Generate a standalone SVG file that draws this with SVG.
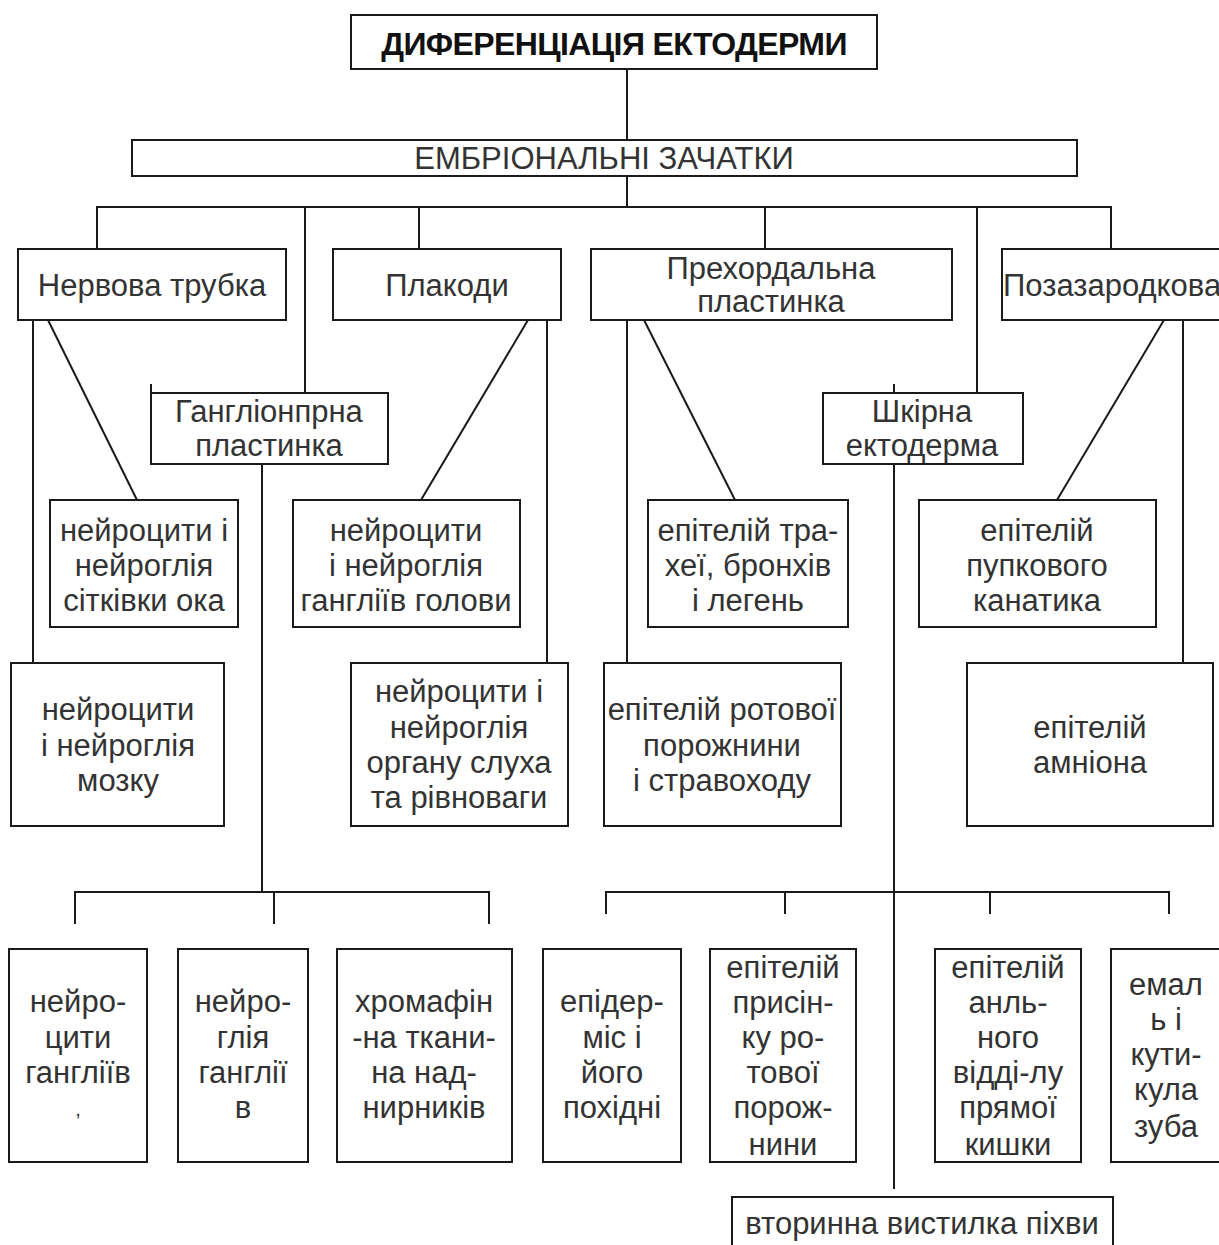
<svg xmlns="http://www.w3.org/2000/svg" width="1219" height="1245" viewBox="0 0 1219 1245">
  <style>
    .box { fill: #ffffff; stroke: #1a1a1a; stroke-width: 2; }
    .ln { stroke: #1a1a1a; stroke-width: 2; fill: none; }
    .t { font-family: "Liberation Sans", Arial, sans-serif; font-size: 31px; fill: #333333; text-anchor: middle; }
    .title { font-family: "Liberation Sans", Arial, sans-serif; font-size: 32px; font-weight: bold; letter-spacing: -0.6px; fill: #111111; text-anchor: middle; }
  </style>
  <rect width="1219" height="1245" fill="#ffffff"/>

  <!-- connectors -->
  <g id="connectors">
    <line class="ln" x1="627" y1="69" x2="627" y2="140"/>
    <line class="ln" x1="627" y1="176" x2="627" y2="207"/>
    <polyline class="ln" points="97,249 97,207 1111,207 1111,249"/>
    <line class="ln" x1="305" y1="207" x2="305" y2="393"/>
    <line class="ln" x1="419" y1="207" x2="419" y2="249"/>
    <line class="ln" x1="765" y1="207" x2="765" y2="249"/>
    <line class="ln" x1="977" y1="207" x2="977" y2="393"/>
    <!-- small stubs above second-level boxes -->
    <line class="ln" x1="151" y1="384" x2="151" y2="393"/>
    <line class="ln" x1="894" y1="384" x2="894" y2="393"/>
    <!-- neural tube -->
    <line class="ln" x1="33" y1="320" x2="33" y2="663"/>
    <line class="ln" x1="48" y1="320" x2="137" y2="500"/>
    <!-- placodes -->
    <line class="ln" x1="528" y1="320" x2="421" y2="500"/>
    <line class="ln" x1="547" y1="320" x2="547" y2="663"/>
    <!-- prechordal plate -->
    <line class="ln" x1="627" y1="320" x2="627" y2="663"/>
    <line class="ln" x1="644" y1="320" x2="735" y2="500"/>
    <!-- extraembryonic -->
    <line class="ln" x1="1164" y1="320" x2="1057" y2="500"/>
    <line class="ln" x1="1183" y1="320" x2="1183" y2="663"/>
    <!-- ganglionic plate -->
    <line class="ln" x1="262" y1="464" x2="262" y2="892"/>
    <polyline class="ln" points="75,924 75,892 489,892 489,924"/>
    <line class="ln" x1="274" y1="892" x2="274" y2="924"/>
    <!-- skin ectoderm -->
    <line class="ln" x1="894" y1="464" x2="894" y2="1189"/>
    <polyline class="ln" points="606,914 606,892 1169,892 1169,914"/>
    <line class="ln" x1="785" y1="892" x2="785" y2="914"/>
    <line class="ln" x1="990" y1="892" x2="990" y2="914"/>
  </g>

  <!-- top level -->
  <g id="n-title">
    <rect class="box" x="351" y="15" width="526" height="54"/>
    <text class="title" x="614" y="55">ДИФЕРЕНЦІАЦІЯ ЕКТОДЕРМИ</text>
  </g>
  <g id="n-rudiments">
    <rect class="box" x="132" y="140" width="945" height="36"/>
    <text class="t" x="604" y="169">ЕМБРІОНАЛЬНІ ЗАЧАТКИ</text>
  </g>

  <!-- rudiments -->
  <g id="n-neural-tube">
    <rect class="box" x="18" y="249" width="268" height="71"/>
    <text class="t" x="152" y="296">Нервова трубка</text>
  </g>
  <g id="n-placodes">
    <rect class="box" x="333" y="249" width="228" height="71"/>
    <text class="t" x="447" y="296">Плакоди</text>
  </g>
  <g id="n-prechordal">
    <rect class="box" x="591" y="249" width="361" height="71"/>
    <text class="t" x="771" y="279">Прехордальна</text>
    <text class="t" x="771" y="312">пластинка</text>
  </g>
  <g id="n-extraembryonic">
    <rect class="box" x="1002" y="249" width="230" height="71"/>
    <text class="t" x="1003" y="296" style="text-anchor:start">Позазародкова</text>
  </g>
  <g id="n-ganglionic">
    <rect class="box" x="151" y="393" width="237" height="71"/>
    <text class="t" x="269" y="422">Гангліонпрна</text>
    <text class="t" x="269" y="456">пластинка</text>
  </g>
  <g id="n-skin">
    <rect class="box" x="823" y="393" width="200" height="71"/>
    <text class="t" x="922" y="422">Шкірна</text>
    <text class="t" x="922" y="456">ектодерма</text>
  </g>

  <!-- derivatives, upper row -->
  <g id="n-retina">
    <rect class="box" x="50" y="500" width="188" height="127"/>
    <text class="t" x="144" y="541">нейроцити і</text>
    <text class="t" x="144" y="576">нейроглія</text>
    <text class="t" x="144" y="611">сітківки ока</text>
  </g>
  <g id="n-head-ganglia">
    <rect class="box" x="293" y="500" width="227" height="127"/>
    <text class="t" x="406" y="541">нейроцити</text>
    <text class="t" x="406" y="576">і нейроглія</text>
    <text class="t" x="406" y="611">гангліїв голови</text>
  </g>
  <g id="n-trachea">
    <rect class="box" x="648" y="500" width="200" height="127"/>
    <text class="t" x="748" y="541">епітелій тра-</text>
    <text class="t" x="748" y="576">хеї, бронхів</text>
    <text class="t" x="748" y="611">і легень</text>
  </g>
  <g id="n-umbilical">
    <rect class="box" x="919" y="500" width="237" height="127"/>
    <text class="t" x="1037" y="541">епітелій</text>
    <text class="t" x="1037" y="576">пупкового</text>
    <text class="t" x="1037" y="611">канатика</text>
  </g>

  <!-- derivatives, lower row -->
  <g id="n-brain">
    <rect class="box" x="11" y="663" width="213" height="163"/>
    <text class="t" x="118" y="720">нейроцити</text>
    <text class="t" x="118" y="756">і нейроглія</text>
    <text class="t" x="118" y="791">мозку</text>
  </g>
  <g id="n-hearing">
    <rect class="box" x="351" y="663" width="217" height="163"/>
    <text class="t" x="459" y="702">нейроцити і</text>
    <text class="t" x="459" y="738">нейроглія</text>
    <text class="t" x="459" y="773">органу слуха</text>
    <text class="t" x="459" y="808">та рівноваги</text>
  </g>
  <g id="n-oral">
    <rect class="box" x="604" y="663" width="237" height="163"/>
    <text class="t" x="722" y="720">епітелій ротової</text>
    <text class="t" x="722" y="756">порожнини</text>
    <text class="t" x="722" y="791">і стравоходу</text>
  </g>
  <g id="n-amnion">
    <rect class="box" x="967" y="663" width="246" height="163"/>
    <text class="t" x="1090" y="738">епітелій</text>
    <text class="t" x="1090" y="773">амніона</text>
  </g>

  <!-- bottom row -->
  <g id="n-ganglia-neurocytes">
    <rect class="box" x="9" y="949" width="138" height="213"/>
    <text class="t" x="78" y="1012">нейро-</text>
    <text class="t" x="78" y="1048">цити</text>
    <text class="t" x="78" y="1083">гангліїв</text>
    <text class="t" x="78" y="1116" style="font-size:20px">,</text>
  </g>
  <g id="n-ganglia-glia">
    <rect class="box" x="178" y="949" width="130" height="213"/>
    <text class="t" x="243" y="1012">нейро-</text>
    <text class="t" x="243" y="1048">глія</text>
    <text class="t" x="243" y="1083">ганглії</text>
    <text class="t" x="243" y="1118">в</text>
  </g>
  <g id="n-chromaffin">
    <rect class="box" x="337" y="949" width="175" height="213"/>
    <text class="t" x="424" y="1012">хромафін</text>
    <text class="t" x="424" y="1048">-на ткани-</text>
    <text class="t" x="424" y="1083">на над-</text>
    <text class="t" x="424" y="1118">нирників</text>
  </g>
  <g id="n-epidermis">
    <rect class="box" x="543" y="949" width="138" height="213"/>
    <text class="t" x="612" y="1012">епідер-</text>
    <text class="t" x="612" y="1048">міс і</text>
    <text class="t" x="612" y="1083">його</text>
    <text class="t" x="612" y="1118">похідні</text>
  </g>
  <g id="n-vestibule">
    <rect class="box" x="710" y="949" width="146" height="213"/>
    <text class="t" x="783" y="978">епітелій</text>
    <text class="t" x="783" y="1013">присін-</text>
    <text class="t" x="783" y="1048">ку ро-</text>
    <text class="t" x="783" y="1083">тової</text>
    <text class="t" x="783" y="1118">порож-</text>
    <text class="t" x="783" y="1155">нини</text>
  </g>
  <g id="n-anal">
    <rect class="box" x="935" y="949" width="146" height="213"/>
    <text class="t" x="1008" y="978">епітелій</text>
    <text class="t" x="1008" y="1013">анль-</text>
    <text class="t" x="1008" y="1048">ного</text>
    <text class="t" x="1008" y="1083">відді-лу</text>
    <text class="t" x="1008" y="1118">прямої</text>
    <text class="t" x="1008" y="1155">кишки</text>
  </g>
  <g id="n-enamel">
    <rect class="box" x="1111" y="949" width="120" height="213"/>
    <text class="t" x="1166" y="995">емал</text>
    <text class="t" x="1166" y="1030">ь і</text>
    <text class="t" x="1166" y="1065">кути-</text>
    <text class="t" x="1166" y="1100">кула</text>
    <text class="t" x="1166" y="1137">зуба</text>
  </g>
  <g id="n-vagina">
    <rect class="box" x="732" y="1197" width="381" height="70"/>
    <text class="t" x="922" y="1234">вторинна вистилка піхви</text>
  </g>
</svg>
